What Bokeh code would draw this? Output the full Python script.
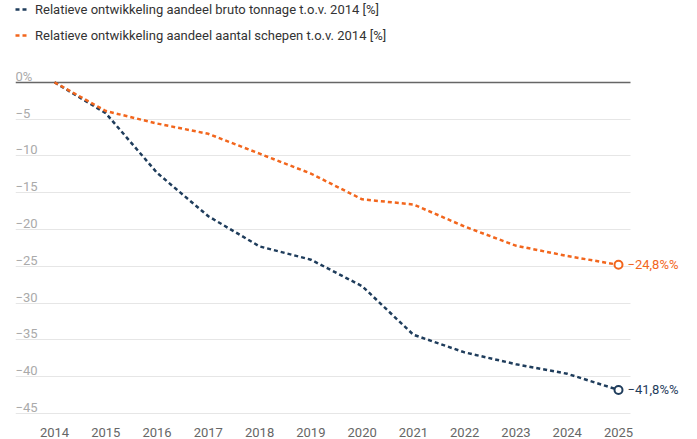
from bokeh.plotting import figure
from bokeh.models import Range1d, FixedTicker, Label, Legend, LegendItem, ColumnDataSource, Grid
from bokeh.core.properties import value
from bokeh.embed import file_html
from bokeh.resources import INLINE

years = [2014, 2015, 2016, 2017, 2018, 2019, 2020, 2021, 2022, 2023, 2024, 2025]
tonnage = [0, -4.2, -12.3, -18.2, -22.3, -24.1, -27.7, -34.3, -36.7, -38.3, -39.6, -41.8]
schepen = [0, -3.9, -5.6, -7.0, -9.7, -12.4, -15.9, -16.6, -19.6, -22.2, -23.6, -24.8]
y_ticks = [0, -5, -10, -15, -20, -25, -30, -35, -40, -45]
y_tick_labels = ["0%", "\u22125", "\u221210", "\u221215", "\u221220", "\u221225",
                 "\u221230", "\u221235", "\u221240", "\u221245"]
label_tonnage = "Relatieve ontwikkeling aandeel bruto tonnage t.o.v. 2014 [%]"
label_schepen = "Relatieve ontwikkeling aandeel aantal schepen t.o.v. 2014 [%]"

NAVY = "#1f3d5c"
ORANGE = "#f2661d"
FONT = "Roboto"

# layout geometry (pixels, page has no margin)
W, H = 697, 439
frame_left = 15
grid_right = 630
frame_top, frame_bottom = 0, 415
px_year = 564 / 11.0
x0_px = 39                                # 2014 position from frame left
px_unit = 332 / 45.0
y0_px = 82                                # 0 position from frame top

x_start = years[0] - x0_px / px_year
x_end = x_start + (W - frame_left) / px_year
x_grid_end = x_start + (grid_right - frame_left) / px_year
y_end = y0_px / px_unit
y_start = y_end - (frame_bottom - frame_top) / px_unit

p = figure(width=W, height=H, output_backend="svg", toolbar_location=None,
           x_range=Range1d(x_start, x_end), y_range=Range1d(y_start, y_end),
           y_axis_location=None,
           min_border_left=frame_left, min_border_right=0,
           min_border_top=frame_top, min_border_bottom=H - frame_bottom)
p.outline_line_color = None
p.background_fill_color = "white"
p.border_fill_color = "white"

p.xgrid.visible = False
p.ygrid.visible = False
p.add_layout(Grid(dimension=1, ticker=FixedTicker(ticks=y_ticks[1:]),
                  cross_bounds=(x_start, x_grid_end),
                  grid_line_color="#e6e6e6", grid_line_width=1), "center")
p.add_layout(Grid(dimension=1, ticker=FixedTicker(ticks=y_ticks[:1]),
                  cross_bounds=(x_start, x_grid_end),
                  grid_line_color="#666666", grid_line_width=1.5), "center")

xa = p.xaxis[0]
xa.ticker = FixedTicker(ticks=years)
xa.axis_line_color = None
xa.major_tick_line_color = None
xa.minor_tick_line_color = None
xa.major_label_standoff = 7
xa.major_label_text_font = FONT
xa.major_label_text_font_size = "13px"
xa.major_label_text_color = "#666666"

# y tick labels above the grid lines
ysrc = ColumnDataSource(dict(x=[x_start] * len(y_ticks), y=y_ticks, t=y_tick_labels))
p.text(x="x", y="y", text="t", source=ysrc, text_font=value(FONT), text_font_size="13px",
       text_color="#aaaaaa", text_align="left", text_baseline="alphabetic", y_offset=-6)

r_ton = p.line(years, tonnage, line_color=NAVY, line_width=2.5, line_dash="4 3")
r_sch = p.line(years, schepen, line_color=ORANGE, line_width=2.5, line_dash="4 3")

p.scatter([years[-1]], [tonnage[-1]], size=8, marker="circle", fill_color="white",
          line_color=NAVY, line_width=2)
p.scatter([years[-1]], [schepen[-1]], size=8, marker="circle", fill_color="white",
          line_color=ORANGE, line_width=2)

def fmt(v):
    return ("%.1f" % v).replace(".", ",").replace("-", "\u2212") + "%%"

for v, c in ((tonnage[-1], NAVY), (schepen[-1], ORANGE)):
    p.add_layout(Label(x=years[-1], y=v, x_offset=9, text=fmt(v), text_font=FONT,
                       text_font_size="13px", text_color=c, text_baseline="middle",
                       text_align="left"))

legend = Legend(items=[LegendItem(label=label_tonnage, renderers=[r_ton]),
                       LegendItem(label=label_schepen, renderers=[r_sch])],
                location="top_left", margin=0, padding=0, spacing=8,
                glyph_width=12, glyph_height=18, label_height=18, label_standoff=8,
                label_text_font=FONT, label_text_font_size="13px",
                label_text_color="#333333", background_fill_alpha=0,
                border_line_alpha=0)
p.add_layout(legend)

open("out.html", "w").write(file_html(p, INLINE))
